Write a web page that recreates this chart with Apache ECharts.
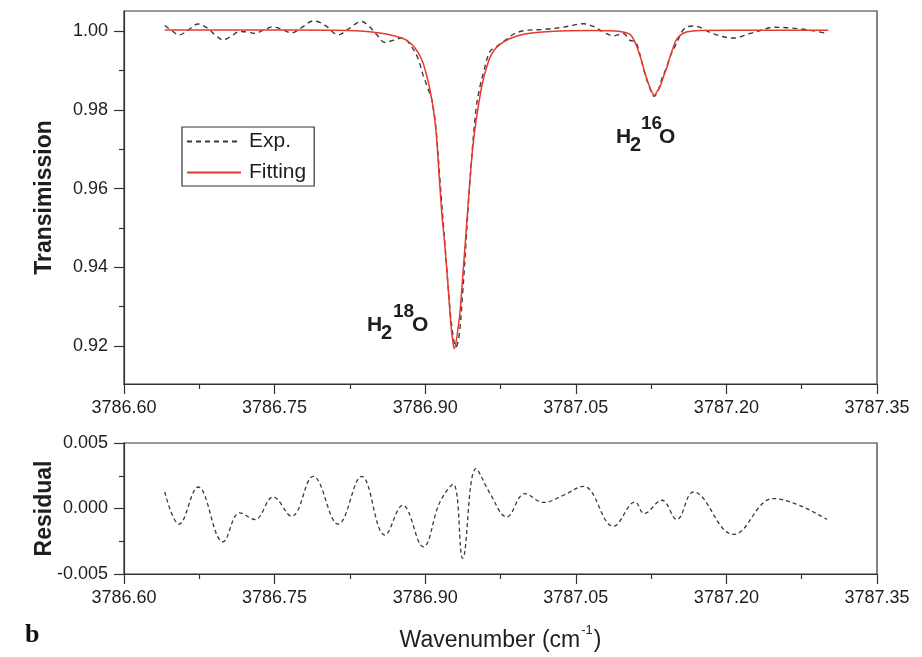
<!DOCTYPE html>
<html>
<head>
<meta charset="utf-8">
<title>H2 18O / H2 16O absorption fit</title>
<script src="https://cdn.jsdelivr.net/npm/echarts@6/dist/echarts.min.js"></script>
<style>
  html, body { margin: 0; padding: 0; background: #fff; }
  #chart { width: 922px; height: 657px; }
</style>
</head>
<body>
<div id="chart"></div>
<script>
// Fitted transmission profile (two absorption lines)
const fitWavenumber = [
  3786.6406, 3786.7253, 3786.8050, 3786.8350, 3786.8549, 3786.8698, 3786.8798, 3786.8868,
  3786.8928, 3786.8977, 3786.9027, 3786.9067, 3786.9107, 3786.9142, 3786.9167, 3786.9197,
  3786.9227, 3786.9247, 3786.9267, 3786.9290, 3786.9311, 3786.9331, 3786.9346, 3786.9371,
  3786.9396, 3786.9421, 3786.9446, 3786.9471, 3786.9496, 3786.9526, 3786.9556, 3786.9586,
  3786.9615, 3786.9645, 3786.9685, 3786.9745, 3786.9845, 3786.9994, 3787.0243, 3787.0642,
  3787.0891, 3787.0991, 3787.1041, 3787.1081, 3787.1111, 3787.1141, 3787.1170, 3787.1200,
  3787.1230, 3787.1250, 3787.1283, 3787.1310, 3787.1340, 3787.1370, 3787.1407, 3787.1440,
  3787.1470, 3787.1499, 3787.1539, 3787.1599, 3787.1739, 3787.2337, 3787.3015
];
const fitTransmission = [
  1.00038, 1.00036, 1.00030, 1.00013, 0.99962, 0.99886, 0.99797, 0.99670,
  0.99466, 0.99212, 0.98755, 0.98247, 0.97484, 0.96213, 0.95324, 0.94511,
  0.93545, 0.92834, 0.92274, 0.91931, 0.92147, 0.92529, 0.92834, 0.93672,
  0.94511, 0.95375, 0.96213, 0.96976, 0.97535, 0.98043, 0.98501, 0.98856,
  0.99111, 0.99339, 0.99517, 0.99670, 0.99822, 0.99936, 1.00000, 1.00025,
  1.00013, 0.99975, 0.99924, 0.99771, 0.99593, 0.99365, 0.99111, 0.98856,
  0.98628, 0.98501, 0.98374, 0.98475, 0.98602, 0.98831, 0.99085, 0.99365,
  0.99593, 0.99771, 0.99898, 0.99987, 1.00025, 1.00030, 1.00030
];

// Measured transmission
const expWavenumber = [
  3786.6406, 3786.6475, 3786.6548, 3786.6635, 3786.6738, 3786.6834, 3786.6914, 3786.6987,
  3786.7064, 3786.7153, 3786.7223, 3786.7303, 3786.7393, 3786.7485, 3786.7572, 3786.7669,
  3786.7771, 3786.7884, 3786.7951, 3786.8018, 3786.8133, 3786.8230, 3786.8366, 3786.8432,
  3786.8516, 3786.8599, 3786.8678, 3786.8775, 3786.8868, 3786.8928, 3786.8980, 3786.9027,
  3786.9067, 3786.9107, 3786.9147, 3786.9197, 3786.9247, 3786.9279, 3786.9306, 3786.9336,
  3786.9373, 3786.9406, 3786.9446, 3786.9506, 3786.9546, 3786.9586, 3786.9645, 3786.9728,
  3786.9812, 3786.9895, 3786.9994, 3787.0177, 3787.0376, 3787.0575, 3787.0675, 3787.0775,
  3787.0874, 3787.0974, 3787.1041, 3787.1091, 3787.1141, 3787.1180, 3787.1230, 3787.1283,
  3787.1320, 3787.1357, 3787.1400, 3787.1440, 3787.1506, 3787.1559, 3787.1606, 3787.1672,
  3787.1739, 3787.1871, 3787.2071, 3787.2237, 3787.2337, 3787.2469, 3787.2603, 3787.2736,
  3787.2868, 3787.3002
];
const expTransmission = [
  1.00152, 1.00025, 0.99911, 1.00025, 1.00191, 1.00076, 0.99898, 0.99784,
  0.99873, 1.00000, 0.99987, 0.99949, 1.00038, 1.00119, 1.00051, 0.99962,
  1.00102, 1.00267, 1.00229, 1.00127, 0.99911, 1.00051, 1.00254, 1.00152,
  0.99924, 0.99720, 0.99771, 0.99835, 0.99593, 0.99314, 0.98882, 0.98551,
  0.98247, 0.97535, 0.96213, 0.94562, 0.92935, 0.92224, 0.91969, 0.92224,
  0.93342, 0.94638, 0.96213, 0.98018, 0.98602, 0.99009, 0.99492, 0.99644,
  0.99809, 0.99949, 1.00025, 1.00051, 1.00109, 1.00196, 1.00127, 0.99987,
  0.99886, 0.99949, 0.99771, 0.99746, 0.99390, 0.98996, 0.98602, 0.98348,
  0.98501, 0.98793, 0.99060, 0.99365, 0.99713, 1.00000, 1.00114, 1.00140,
  1.00102, 0.99936, 0.99832, 0.99949, 1.00025, 1.00107, 1.00094, 1.00064,
  1.00013, 0.99949
];

// Residual of the fit (measured - fitted)
const residualWavenumber = [
  3786.6406, 3786.6548, 3786.6738, 3786.6987, 3786.7153, 3786.7303, 3786.7485, 3786.7669,
  3786.7884, 3786.8133, 3786.8366, 3786.8599, 3786.8775, 3786.8980, 3786.9147, 3786.9279,
  3786.9373, 3786.9506, 3786.9645, 3786.9812, 3786.9994, 3787.0177, 3787.0376, 3787.0575,
  3787.0874, 3787.1091, 3787.1180, 3787.1357, 3787.1506, 3787.1672, 3787.2071, 3787.2469,
  3787.3002
];
const residualValue = [
  0.00126, -0.00119, 0.00164, -0.00254, -0.00033, -0.00084, 0.00088, -0.00059,
  0.00245, -0.00119, 0.00245, -0.00203, 0.00025, -0.00292, 0.00050, 0.00185,
  -0.00380, 0.00304, 0.00116, -0.00064, 0.00114, 0.00046, 0.00101, 0.00169,
  -0.00135, 0.00050, -0.00038, 0.00063, -0.00084, 0.00126, -0.00198, 0.00076,
  -0.00084
];

// Tick values
const transmissionTicks = [0.92, 0.94, 0.96, 0.98, 1.00];
const transmissionMinorTicks = [0.93, 0.95, 0.97, 0.99];

const pairs = (xs, ys) => xs.map((x, i) => [x, ys[i]]);

const SANS = '"Liberation Sans", Arial, Helvetica, sans-serif';
const NARROW = '"Liberation Sans Narrow", "Arial Narrow", "Liberation Sans", sans-serif';
const INK = '#333';
const TEXT = '#1e1e1e';

const axisLine = { show: true, onZero: false, lineStyle: { color: INK, width: 1.2 } };
const tickLabel = { color: TEXT, fontSize: 18, fontFamily: SANS };
const titleStyle = { fontFamily: SANS, fontWeight: 'bold', fontSize: 23, color: TEXT };

function xAxisFor(gridIndex, extra) {
  return Object.assign({
    gridIndex: gridIndex,
    type: 'value',
    min: 3786.60,
    max: 3787.35,
    interval: 0.15,
    axisLine: axisLine,
    axisTick: { show: true, inside: false, length: 10, lineStyle: { color: INK, width: 1.2 } },
    minorTick: { show: true, splitNumber: 2, length: 5, lineStyle: { color: INK, width: 1.2 } },
    splitLine: { show: false },
    axisLabel: Object.assign({ margin: 15, formatter: v => v.toFixed(2) }, tickLabel)
  }, extra || {});
}

const chart = echarts.init(document.getElementById('chart'), null, { renderer: 'canvas' });

chart.setOption({
  animation: false,
  backgroundColor: '#fff',
  grid: [
    { left: 124, top: 11, width: 753, height: 373, show: true, borderColor: INK, borderWidth: 1.2, backgroundColor: 'transparent' },
    { left: 124, top: 443, width: 753, height: 131, show: true, borderColor: INK, borderWidth: 1.2, backgroundColor: 'transparent' }
  ],
  legend: {
    data: ['Exp.', 'Fitting'],
    orient: 'vertical',
    left: 182,
    top: 127,
    padding: [4, 8, 3, 4],
    itemGap: 10,
    itemWidth: 54,
    itemHeight: 20,
    borderColor: INK,
    borderWidth: 1.2,
    itemStyle: { opacity: 0 },
    textStyle: { color: TEXT, fontSize: 21, fontFamily: SANS, padding: [0, 0, 0, 3] }
  },
  xAxis: [
    xAxisFor(0),
    xAxisFor(1, {
      name: '{t|Wavenumber (cm}{s|-1}{t|)}',
      nameLocation: 'middle',
      nameGap: 50,
      nameTextStyle: {
        rich: {
          t: { fontFamily: NARROW, fontSize: 23, color: TEXT, lineHeight: 28, verticalAlign: 'bottom' },
          s: { fontFamily: NARROW, fontSize: 13, color: TEXT, lineHeight: 28, verticalAlign: 'top', padding: [0, 1, 0, 1] }
        }
      }
    })
  ],
  yAxis: [
    {
      gridIndex: 0,
      type: 'value',
      position: 'left',
      min: 0.9103,
      max: 1.0052,
      axisLine: axisLine,
      axisTick: { show: true, inside: false, length: 10, customValues: transmissionTicks, lineStyle: { color: INK, width: 1.2 } },
      axisLabel: Object.assign({ margin: 16, customValues: transmissionTicks, formatter: v => v.toFixed(2) }, tickLabel),
      splitLine: { show: false },
      name: 'Transimission',
      nameLocation: 'middle',
      nameRotate: 90,
      nameGap: 68,
      nameMoveOverlap: false,
      nameTextStyle: titleStyle
    },
    {
      gridIndex: 0,
      type: 'value',
      position: 'left',
      offset: 0,
      min: 0.9103,
      max: 1.0052,
      axisLine: { show: false },
      axisTick: { show: true, inside: false, length: 5, customValues: transmissionMinorTicks, lineStyle: { color: INK, width: 1.2 } },
      axisLabel: { show: false },
      splitLine: { show: false }
    },
    {
      gridIndex: 1,
      type: 'value',
      position: 'left',
      min: -0.005,
      max: 0.005,
      interval: 0.005,
      axisLine: axisLine,
      axisTick: { show: true, inside: false, length: 10, lineStyle: { color: INK, width: 1.2 } },
      minorTick: { show: true, splitNumber: 2, length: 5, lineStyle: { color: INK, width: 1.2 } },
      axisLabel: Object.assign({ margin: 16, formatter: v => (Math.abs(v) < 1e-9 ? 0 : v).toFixed(3) }, tickLabel),
      splitLine: { show: false },
      name: 'Residual',
      nameLocation: 'middle',
      nameRotate: 90,
      nameGap: 68,
      nameMoveOverlap: false,
      nameTextStyle: titleStyle
    }
  ],
  series: [
    {
      name: 'Exp.',
      type: 'line',
      xAxisIndex: 0,
      yAxisIndex: 0,
      data: pairs(expWavenumber, expTransmission),
      symbol: 'none',
      smooth: 0.35,
      lineStyle: { color: '#3a3a3a', width: 1.4, type: [5, 4] },
      itemStyle: { color: '#3a3a3a' },
      z: 3
    },
    {
      name: 'Fitting',
      type: 'line',
      xAxisIndex: 0,
      yAxisIndex: 0,
      data: pairs(fitWavenumber, fitTransmission),
      symbol: 'none',
      smooth: 0.35,
      lineStyle: { color: '#e8392f', width: 1.5 },
      itemStyle: { color: '#e8392f' },
      z: 4
    },
    {
      name: 'Residual',
      type: 'line',
      xAxisIndex: 1,
      yAxisIndex: 2,
      data: pairs(residualWavenumber, residualValue),
      symbol: 'none',
      smooth: 0.4,
      lineStyle: { color: '#3a3a3a', width: 1.3, type: [4, 3] },
      itemStyle: { color: '#3a3a3a' }
    }
  ],
  graphic: [
    // H2(18)O label beside the strong line
    { type: 'text', left: 367, top: 315, style: { text: 'H', font: 'bold 21px ' + NARROW, fill: TEXT } },
    { type: 'text', left: 381, top: 323, style: { text: '2', font: 'bold 20px ' + NARROW, fill: TEXT } },
    { type: 'text', left: 393, top: 302, style: { text: '18', font: 'bold 19px ' + NARROW, fill: TEXT } },
    { type: 'text', left: 412, top: 315, style: { text: 'O', font: 'bold 21px ' + NARROW, fill: TEXT } },
    // H2(16)O label under the weak line
    { type: 'text', left: 616, top: 127, style: { text: 'H', font: 'bold 21px ' + NARROW, fill: TEXT } },
    { type: 'text', left: 630, top: 135, style: { text: '2', font: 'bold 20px ' + NARROW, fill: TEXT } },
    { type: 'text', left: 641, top: 114, style: { text: '16', font: 'bold 19px ' + NARROW, fill: TEXT } },
    { type: 'text', left: 659, top: 127, style: { text: 'O', font: 'bold 21px ' + NARROW, fill: TEXT } },
    // panel letter
    { type: 'text', left: 25, top: 622, style: { text: 'b', font: 'bold 26px "Liberation Serif", "Times New Roman", serif', fill: '#111' } }
  ]
});
</script>
</body>
</html>
